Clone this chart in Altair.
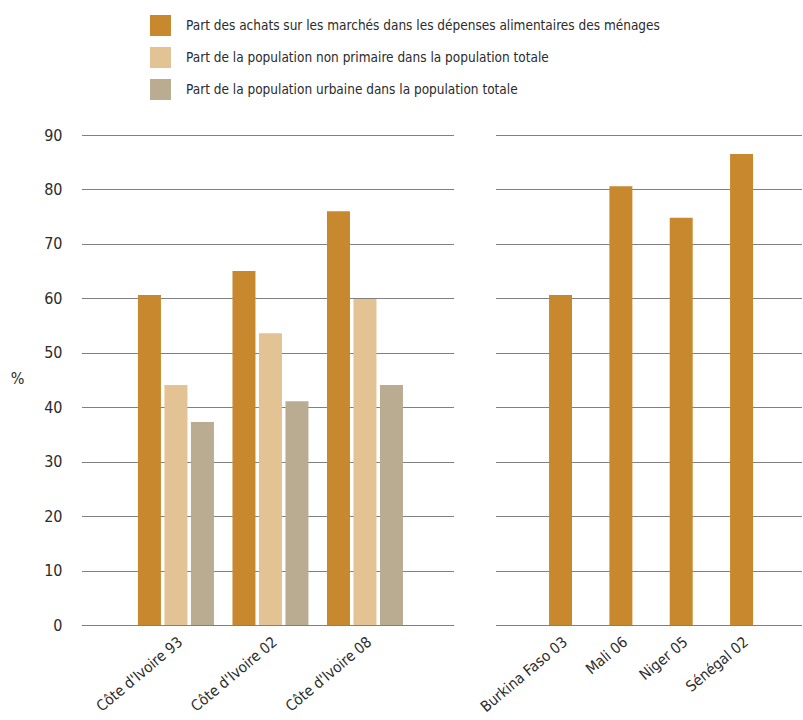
import altair as alt
import pandas as pd

groups = ["Côte d'Ivoire 93", "Côte d'Ivoire 02", "Côte d'Ivoire 08"]
series = [
    "Part des achats sur les marchés dans les dépenses alimentaires des ménages",
    "Part de la population non primaire dans la population totale",
    "Part de la population urbaine dans la population totale",
]
colors = ["#C8892E", "#E3C394", "#BAAC91"]
achats = [60.6, 65.0, 76.0]
non_primaire = [44.1, 53.6, 59.9]
urbaine = [37.3, 41.1, 44.1]

countries = ["Burkina Faso 03", "Mali 06", "Niger 05", "Sénégal 02"]
achats_countries = [60.6, 80.6, 74.8, 86.5]

y_ticks = [0, 10, 20, 30, 40, 50, 60, 70, 80, 90]

rows = []
for i, g in enumerate(groups):
    for s, vals in zip(series, [achats, non_primaire, urbaine]):
        rows.append({"cat": g, "serie": s, "val": vals[i]})
left_df = pd.DataFrame(rows)
right_df = pd.DataFrame({"cat": countries, "val": achats_countries})

FONT = "DejaVu Sans Condensed"
TXT = "#2b2b2b"

y_scale = alt.Scale(domain=[0, 90], nice=False)

left = alt.Chart(left_df).mark_bar().encode(
    x=alt.X("cat:N", sort=groups,
            scale=alt.Scale(paddingInner=0.196, paddingOuter=0.566, align=0.523),
            axis=alt.Axis(title=None, labelAngle=-40, grid=False, labelPadding=9)),
    xOffset=alt.XOffset("serie:N", sort=series, scale=alt.Scale(paddingInner=0.132)),
    y=alt.Y("val:Q", scale=y_scale,
            axis=alt.Axis(values=y_ticks, title="%", titleAngle=0, titleX=-65, titleY=243,
                          titleAlign="center", titleBaseline="middle", titleFontWeight="normal",
                          titleFont=FONT, titleFontSize=16, titleColor=TXT, labelPadding=20)),
    color=alt.Color("serie:N", sort=series, scale=alt.Scale(domain=series, range=colors),
                    legend=alt.Legend(orient="none", legendX=68, legendY=-120, title=None,
                                      symbolType="square", symbolSize=441, symbolStrokeWidth=0,
                                      labelFont=FONT, labelFontSize=13.5, labelColor=TXT,
                                      labelLimit=700, labelOffset=15, rowPadding=11)),
).properties(width=372, height=490)

right = alt.Chart(right_df).mark_bar(color="#C8892E").encode(
    x=alt.X("cat:N", sort=countries,
            scale=alt.Scale(paddingInner=0.619, paddingOuter=0.845, align=0.52),
            axis=alt.Axis(title=None, labelAngle=-40, grid=False, labelPadding=9)),
    y=alt.Y("val:Q", scale=y_scale,
            axis=alt.Axis(values=y_ticks, title=None, labels=False)),
).properties(width=306, height=490)

chart = alt.hconcat(left, right, spacing=42, bounds="flush").resolve_scale(
    x="independent", y="independent"
).properties(
    padding={"left": 10, "top": 15, "right": 0, "bottom": 0}
).configure_view(stroke=None).configure_axis(
    domain=False, ticks=False, gridColor="#000000", gridDash=[1, 1], gridWidth=1,
    labelFont=FONT, labelFontSize=16, labelColor=TXT,
).configure_axisX(labelFontSize=15)

chart.save("out.html", embed_options={"renderer": "svg", "actions": False})
